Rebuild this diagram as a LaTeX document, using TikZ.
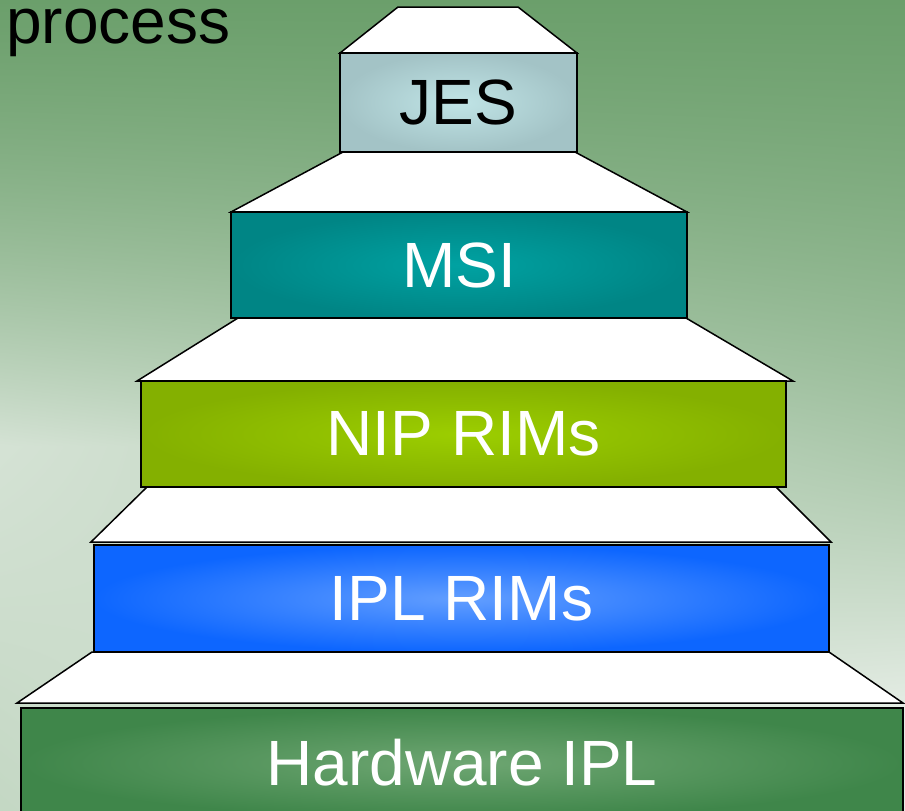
\documentclass[tikz,border=0pt]{standalone}
\usepackage{fontspec}
\setmainfont{Liberation Sans}
\usepackage{xcolor}
\definecolor{jesout}{RGB}{163,195,198}
\definecolor{jesin}{RGB}{192,228,230}
\definecolor{msiout}{RGB}{0,133,133}
\definecolor{msiin}{RGB}{0,162,162}
\definecolor{nipout}{RGB}{132,176,0}
\definecolor{nipin}{RGB}{156,206,0}
\definecolor{iplout}{RGB}{13,102,255}
\definecolor{iplin}{RGB}{98,158,255}
\definecolor{hwout}{RGB}{63,134,74}
\definecolor{hwin}{RGB}{110,166,114}
\usepackage{tikz}
\usetikzlibrary{positioning,calc}
% background: dark green at the top, lighter downwards, lightest low on the left and at the bottom right
\pgfdeclarefunctionalshading{bgshade}{\pgfpointorigin}{\pgfpoint{100bp}{100bp}}{}{
  75 exch sub 50 div
  exch 25 sub 50 div
  1 index dup dup mul 0.6 mul exch 0.6 mul add
  dup 1 gt {pop 1} if
  2 index dup 0.55 lt {0.55 div dup dup mul 0.5 mul exch 0.5 mul add 0.85 mul} {0.55 sub 0.3 mul 0.85 exch sub} ifelse
  exch 1 index sub 2 index mul add
  dup 0 lt {pop 0} if dup 1 gt {pop 1} if
  exch pop exch pop
  dup 0.486 mul 0.42 add
  exch dup 0.31 mul 0.6235 add
  exch 0.486 mul 0.42 add
}

\begin{document}
\begin{tikzpicture}[x=1pt, y=-1pt,
    stepface/.style={fill=white, draw=black, line width=1.5pt},
    layerbox/.style={rectangle, draw=black, line width=1.6pt, inner sep=0pt,
                 font=\fontsize{64}{70}\selectfont, text=white},
    title/.style={font=\fontsize{64}{70}\selectfont, inner sep=0pt, anchor=base west},
  ]
    % background
    \useasboundingbox (0,0) rectangle (905,811);
    \clip (0,0) rectangle (905,811);
    \shade[shading=bgshade] (0,0) rectangle (905,811);

    \node[title] (proc) at (6,43) {process};

    % steps of the pyramid, top down
    \draw[stepface] (398,7) -- (518,7) -- (577,53) -- (340,53) -- cycle;
    \node[layerbox, minimum width=237pt, minimum height=99pt,
          inner color=jesin, outer color=jesout, text=black]
                                      (jes) at (458.5,102.5) {JES};

    \draw[stepface] (343,152) -- (575,152) -- (687,212) -- (231,212) -- cycle;
    \node[layerbox, minimum width=456pt, minimum height=106pt,
          inner color=msiin, outer color=msiout]
                                      (msi) at (459,265) {MSI};

    \draw[stepface] (238,318) -- (686,318) -- (793,381) -- (137,381) -- cycle;
    \node[layerbox, minimum width=645pt, minimum height=106pt,
          inner color=nipin, outer color=nipout]
                                      (nip) at (463.5,434) {NIP RIMs};

    \draw[stepface] (147,487) -- (776,487) -- (831,542) -- (91,542) -- cycle;
    \node[layerbox, minimum width=735pt, minimum height=107pt,
          inner color=iplin, outer color=iplout]
                                      (ipl) at (461.5,598.5) {IPL RIMs};

    \draw[stepface] (92,652) -- (829,652) -- (903,703) -- (17,703) -- cycle;
    \node[layerbox, minimum width=882pt, minimum height=110pt,
          inner color=hwin, outer color=hwout]
                                      (hw) at (462,763) {Hardware IPL};
\end{tikzpicture}
\end{document}
